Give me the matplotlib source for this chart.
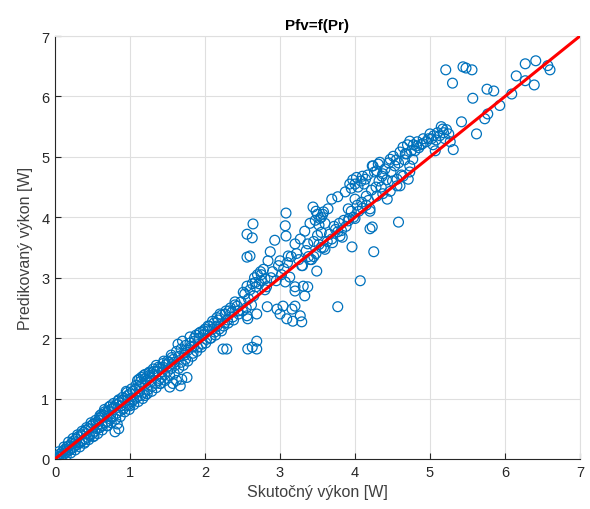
import matplotlib.pyplot as plt

# lower dense band, 0 .. 2.4 W
x_low = [0.00, 0.02, 0.03, 0.05, 0.06, 0.08, 0.10, 0.11, 0.13, 0.14, 0.16, 0.17, 0.19, 0.20,
         0.22, 0.23, 0.25, 0.26, 0.28, 0.30, 0.31, 0.33, 0.35, 0.36, 0.38, 0.40, 0.41, 0.43,
         0.45, 0.46, 0.48, 0.50, 0.51, 0.53, 0.55, 0.56, 0.58, 0.60, 0.62, 0.63, 0.65, 0.67,
         0.69, 0.70, 0.72, 0.74, 0.76, 0.77, 0.79, 0.80, 0.85, 0.83, 0.82, 0.83, 0.86, 0.87,
         0.90, 0.91, 0.93, 0.95, 0.97, 0.98, 1.00, 1.02, 1.04, 1.05, 1.07, 1.09, 1.10, 1.12,
         1.14, 1.15, 1.17, 1.19, 1.20, 1.22, 1.24, 1.26, 1.27, 1.29, 1.31, 1.32, 1.34, 1.36,
         1.38, 1.40, 1.42, 1.44, 1.46, 1.48, 1.50, 1.52, 1.53, 1.55, 1.57, 1.58, 1.60, 1.62,
         1.64, 1.65, 1.67, 1.68, 1.69, 1.70, 1.72, 1.74, 1.76, 1.77, 1.80, 1.82, 1.84, 1.86,
         1.88, 1.90, 1.92, 1.94, 1.96, 1.98, 2.00, 2.02, 2.04, 2.06, 2.08, 2.10, 2.12, 2.14,
         2.16, 2.18, 2.20, 2.22, 2.24, 2.26, 2.27, 2.29, 2.30,
         0.15, 0.27, 0.42, 0.57, 0.71, 0.88, 1.01, 1.13, 1.28, 1.43, 1.59, 1.73, 1.85, 0.62,
         0.66, 0.60, 0.40, 0.52, 0.70, 1.00, 1.20, 1.40, 1.35, 1.45, 1.55, 0.95, 0.85, 0.74,
         1.25, 1.18, 1.12,
         0.05, 0.08, 0.12, 0.15, 0.18, 0.21, 0.24, 0.27, 0.30, 0.33, 0.36, 0.39, 0.42, 0.45,
         0.48, 0.51, 0.54, 0.57, 0.60, 0.63, 0.66, 0.69, 0.72, 0.75, 0.78, 0.81, 0.84, 0.87,
         0.90, 0.93, 0.96, 0.99, 1.02, 1.05, 1.08, 1.11, 1.14, 1.17, 1.20, 1.23, 1.26, 1.29,
         1.32, 1.35, 1.38, 1.41, 1.44, 1.47, 1.50, 1.53, 1.56, 1.59, 1.62, 1.65, 1.68, 1.71,
         1.74, 1.77, 1.80, 1.83, 1.86, 1.89, 1.92, 1.95, 1.98, 2.01, 2.04, 2.07, 2.10, 2.13,
         2.16, 2.19, 2.22, 2.25, 2.28, 2.31, 2.34, 2.37, 2.40, 2.44]
y_low = [0.02, 0.00, 0.05, 0.03, 0.08, 0.05, 0.12, 0.07, 0.16, 0.10, 0.20, 0.13, 0.22, 0.15,
         0.26, 0.18, 0.30, 0.21, 0.33, 0.24, 0.37, 0.27, 0.40, 0.30, 0.44, 0.33, 0.48, 0.36,
         0.50, 0.39, 0.55, 0.42, 0.58, 0.46, 0.60, 0.50, 0.64, 0.52, 0.70, 0.55, 0.72, 0.60,
         0.77, 0.62, 0.80, 0.66, 0.83, 0.70, 0.86, 0.45, 0.50, 0.58, 0.90, 0.76, 0.93, 0.80,
         0.97, 0.83, 1.00, 0.88, 1.05, 0.90, 1.08, 0.95, 1.12, 0.98, 1.15, 1.02, 1.30, 1.20,
         1.05, 1.35, 1.25, 1.10, 1.40, 1.30, 1.15, 1.44, 1.35, 1.20, 1.49, 1.40, 1.25, 1.45,
         1.30, 1.50, 1.35, 1.52, 1.40, 1.56, 1.45, 1.60, 1.19, 1.50, 1.25, 1.65, 1.55, 1.30,
         1.90, 1.70, 1.21, 1.60, 1.32, 1.95, 1.75, 1.65, 1.35, 1.80, 2.02, 1.85, 1.75, 1.95,
         2.05, 1.85, 2.00, 2.10, 1.90, 2.05, 2.15, 1.98, 2.12, 2.20, 2.00, 2.15, 2.25, 2.05,
         2.20, 2.30, 2.40, 2.12, 1.82, 2.25, 2.40, 1.82, 2.30,
         0.15, 0.27, 0.42, 0.57, 0.71, 0.88, 1.00, 1.12, 1.28, 1.44, 1.60, 1.72, 1.86, 0.74,
         0.78, 0.72, 0.28, 0.38, 0.55, 0.88, 1.05, 1.25, 1.55, 1.62, 1.72, 1.12, 0.98, 0.88,
         1.42, 1.38, 1.32,
         0.12, 0.00, 0.20, 0.05, 0.28, 0.10, 0.34, 0.15, 0.40, 0.20, 0.46, 0.26, 0.52, 0.32,
         0.60, 0.37, 0.64, 0.42, 0.68, 0.48, 0.82, 0.55, 0.86, 0.60, 0.92, 0.66, 0.96, 0.70,
         1.02, 0.78, 1.10, 0.82, 1.16, 0.90, 1.22, 0.95, 1.28, 1.00, 1.33, 1.08, 1.38, 1.12,
         1.45, 1.18, 1.52, 1.25, 1.58, 1.30, 1.62, 1.38, 1.68, 1.42, 1.78, 1.50, 1.82, 1.55,
         1.88, 1.62, 1.92, 1.70, 2.00, 1.78, 2.08, 1.85, 2.12, 1.92, 2.20, 2.00, 2.28, 2.10,
         2.34, 2.15, 2.38, 2.20, 2.45, 2.25, 2.50, 2.35, 2.60, 2.45]

# scattered middle part, 2.3 .. 3.4 W
x_mid = [2.32, 2.36, 2.38, 2.40, 2.43, 2.45, 2.48, 2.50, 2.53, 2.55, 2.56, 2.57, 2.58, 2.60,
         2.62, 2.63, 2.65, 2.66, 2.68, 2.69, 2.70, 2.72, 2.74, 2.75, 2.78, 2.80, 2.82, 2.83,
         2.84, 2.87, 2.88, 2.90, 2.93, 2.95, 2.96, 2.98, 3.00, 3.00, 3.02, 3.04, 3.05, 3.07,
         3.07, 3.08, 3.08, 3.09, 3.10, 3.11, 3.13, 3.15, 3.16, 3.17, 3.20, 3.20, 3.20, 3.20,
         3.22, 3.25, 3.27, 3.27, 3.29, 3.29, 3.31, 3.33, 3.33, 3.35, 3.37, 3.37,
         2.64, 2.56, 2.63, 2.56, 2.60, 2.63, 2.69, 2.69, 2.57, 2.51, 2.56, 2.67, 2.75, 2.80]
y_mid = [2.45, 2.43, 2.30, 2.55, 2.53, 2.40, 2.60, 2.45, 2.73, 2.50, 2.37, 2.32, 2.65, 2.80,
         2.55, 2.90, 2.70, 3.00, 2.85, 2.40, 3.05, 2.90, 3.10, 2.95, 3.14, 2.98, 2.85, 2.52,
         3.28, 3.43, 3.00, 3.10, 3.62, 2.95, 2.48, 3.20, 3.28, 2.40, 3.05, 2.53, 3.15, 2.93,
         3.86, 4.07, 3.69, 2.32, 3.25, 3.36, 3.01, 3.35, 2.48, 2.28, 2.85, 3.56, 2.78, 2.53,
         3.40, 3.30, 2.37, 3.64, 3.20, 2.27, 2.86, 3.77, 2.70, 3.45, 3.56, 2.85,
         3.89, 3.72, 3.66, 3.34, 3.36, 1.85, 1.82, 1.95, 1.82, 2.76, 2.86, 2.92, 3.05, 2.80]

# upper part, 3.3 .. 6.6 W
x_high = [3.40, 3.44, 3.47, 3.50, 3.52, 3.55, 3.58, 3.60, 3.60, 3.49, 3.45, 3.50, 3.55, 3.64,
          3.69, 3.69, 3.72, 3.77, 3.77, 3.77, 3.80, 3.83, 3.85, 3.87, 3.91, 3.91, 3.93, 3.95,
          3.96, 3.97, 3.98, 4.00, 4.00, 4.02, 4.04, 4.05, 4.07, 4.08, 4.09, 4.10, 4.12, 4.14,
          4.15, 4.17, 4.20, 4.20, 4.20, 4.23, 4.23, 4.24, 4.25, 4.26, 4.29, 4.29, 4.31, 4.33,
          4.36, 4.37, 4.37, 4.40, 4.43, 4.45, 4.47, 4.47, 4.50, 4.51, 4.55, 4.56, 4.56, 4.58,
          4.60, 4.60, 4.62, 4.64, 4.64, 4.67, 4.70, 4.71, 4.73, 4.73, 4.73, 4.77, 4.80, 4.83,
          4.85, 4.88, 4.91, 4.95, 5.00, 5.02, 5.04, 5.07, 5.10, 5.13, 5.15, 5.17, 5.20, 5.22,
          5.25, 5.27, 5.31, 3.40, 3.45, 3.55,
          3.30, 3.38, 3.42, 3.48, 3.52, 3.58, 3.63, 3.66, 3.70, 3.74, 3.79, 3.82, 3.88, 3.92,
          3.95, 4.00, 4.03, 4.10, 4.15, 4.18, 4.22, 4.28, 4.32, 4.35, 4.42, 4.48, 4.53, 4.58,
          4.66, 4.69, 4.75, 4.78, 4.82, 4.90, 4.98, 5.05, 5.08, 5.18, 3.48, 3.53, 3.57,
          5.21, 5.44, 5.48, 5.56, 5.30, 5.57, 5.76, 5.85, 5.93, 5.77, 5.73, 5.42, 5.62, 6.09,
          6.15, 6.27, 6.41, 6.27, 6.39, 6.57, 6.60]
y_high = [3.90, 4.17, 3.95, 4.05, 3.87, 4.00, 4.09, 3.90, 3.47, 3.11, 3.60, 3.70, 3.75, 4.14,
          4.30, 3.64, 3.85, 4.34, 3.76, 2.52, 3.69, 3.67, 3.95, 4.42, 4.14, 3.94, 4.55, 4.48,
          3.51, 4.62, 4.00, 4.30, 4.55, 4.66, 4.50, 4.10, 2.95, 4.60, 4.25, 4.68, 4.55, 4.63,
          4.20, 4.70, 4.10, 3.81, 4.14, 4.85, 3.84, 4.85, 3.43, 4.75, 4.77, 4.35, 4.88, 4.91,
          4.68, 4.72, 4.39, 4.80, 4.30, 4.90, 4.96, 4.43, 4.60, 5.01, 4.95, 4.63, 4.52, 3.92,
          5.08, 4.52, 4.70, 5.16, 4.68, 5.05, 5.20, 4.63, 5.26, 4.85, 4.75, 4.96, 5.10, 5.25,
          5.15, 5.20, 5.30, 5.25, 5.38, 5.30, 5.20, 5.10, 5.40, 5.35, 5.50, 5.46, 5.30, 5.45,
          5.38, 5.25, 5.12, 3.30, 3.35, 3.50,
          3.20, 3.35, 3.30, 3.40, 3.55, 3.50, 3.60, 3.72, 3.58, 3.80, 3.90, 3.78, 3.85, 3.98,
          4.10, 3.98, 4.20, 4.15, 4.35, 4.28, 4.45, 4.50, 4.60, 4.50, 4.62, 4.75, 4.85, 4.90,
          4.95, 5.05, 5.10, 5.20, 5.18, 5.22, 5.30, 5.35, 5.28, 5.40, 4.10, 3.98, 4.05,
          6.44, 6.49, 6.47, 6.44, 6.22, 5.97, 6.12, 6.09, 5.85, 5.71, 5.63, 5.58, 5.38, 6.04,
          6.34, 6.54, 6.59, 6.26, 6.19, 6.51, 6.44]

ideal = [0, 7]

blue = '#0072BD'
txt = '#262626'

plt.rcParams['font.family'] = ['Liberation Sans', 'DejaVu Sans']

fig = plt.figure(figsize=(5.9, 5.1), dpi=100)
ax = fig.add_axes([55 / 590, 50 / 510, 525 / 590, 423 / 510])

for xs, ys in [(x_low, y_low), (x_mid, y_mid), (x_high, y_high)]:
    ax.scatter(xs, ys, s=50, facecolors='none', edgecolors=blue, linewidths=0.9, zorder=3)
ax.plot(ideal, ideal, color='#FF0000', linewidth=2.2, zorder=4)

ax.set_xlim(0, 7)
ax.set_ylim(0, 7)
ax.set_xticks(range(8))
ax.set_yticks(range(8))
ax.grid(True, color='#dfdfdf', linewidth=0.8)
ax.set_axisbelow(True)
ax.tick_params(direction='in', length=4, colors=txt, labelsize=10.5, pad=4)
for side in ['left', 'bottom']:
    ax.spines[side].set_color(txt)
    ax.spines[side].set_linewidth(0.8)
for side in ['top', 'right']:
    ax.spines[side].set_color('#dfdfdf')
    ax.spines[side].set_linewidth(0.8)

ax.set_title('Pfv=f(Pr)', fontsize=11, fontweight='bold', color='black', pad=5)
ax.set_xlabel('Skutočný výkon [W]', fontsize=11.5, color='#404040', labelpad=4)
ax.set_ylabel('Predikovaný výkon [W]', fontsize=11.5, color='#404040', labelpad=6)

fig.savefig('out.png', dpi=100)
